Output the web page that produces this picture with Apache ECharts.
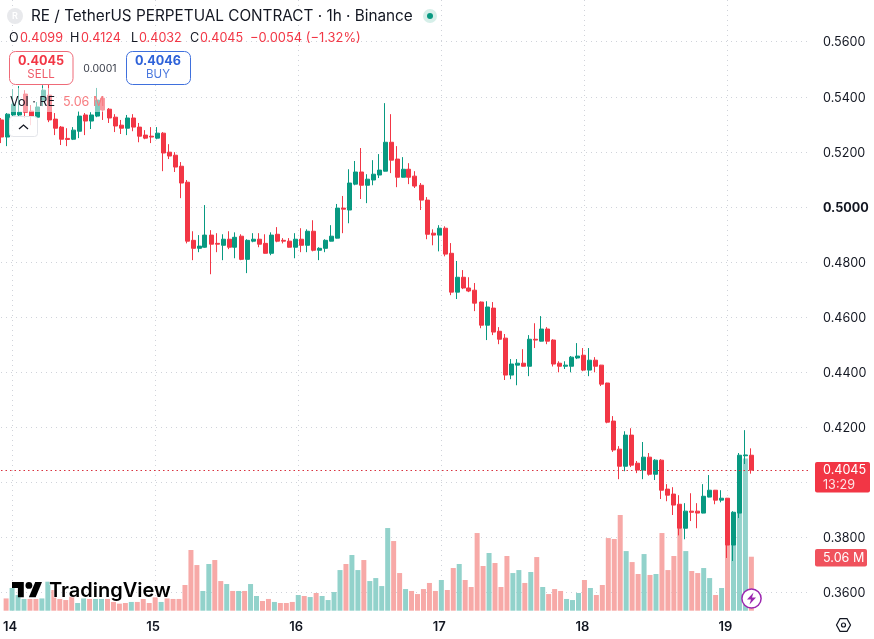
<!DOCTYPE html>
<html>
<head>
<meta charset="utf-8">
<title>RE / TetherUS perpetual, 1h</title>
<script src="https://cdn.jsdelivr.net/npm/echarts@6/dist/echarts.min.js"></script>
<style>
  html, body { margin: 0; padding: 0; background: #fff; }
  #chart { width: 874px; height: 639px; }
</style>
</head>
<body>
<div id="chart"></div>
<script>
// Hourly candles, oldest first.
const opens = [
  .5316,.5254,.5334,.5334,.5410,.5348,.5326,.5388,.5406,.5319,.5290,.5249,.5246,.5275,.5334,.5312,.5330,.5395,.5355,.5326,
  .5297,.5286,.5323,.5290,.5261,.5257,.5250,.5268,.5199,.5188,.5148,.5090,.4879,.4850,.4854,.4898,.4868,.4861,.4883,.4854,
  .4894,.4810,.4876,.4883,.4868,.4832,.4901,.4879,.4876,.4854,.4883,.4861,.4912,.4843,.4850,.4876,.4887,.4996,.4989,.5083,
  .5127,.5079,.5098,.5116,.5130,.5235,.5174,.5108,.5137,.5112,.5079,.5025,.4905,.4898,.4923,.4832,.4691,.4745,.4706,.4698,
  .4655,.4571,.4633,.4549,.4524,.4390,.4426,.4433,.4422,.4520,.4513,.4557,.4517,.4433,.4422,.4422,.4452,.4462,.4408,.4444,
  .4426,.4361,.4223,.4121,.4059,.4172,.4070,.4045,.4092,.4030,.4081,.3976,.3958,.3921,.3834,.3896,.3896,.3889,.3947,.3972,
  .3936,.3943,.3773,.3889,.4097,.4099
];
const closes = [
  .5254,.5337,.5373,.5344,.5344,.5330,.5363,.5424,.5316,.5286,.5246,.5245,.5279,.5330,.5312,.5334,.5388,.5352,.5323,.5294,
  .5286,.5323,.5290,.5257,.5250,.5254,.5268,.5196,.5185,.5145,.5087,.4876,.4850,.4858,.4898,.4865,.4865,.4883,.4854,.4890,
  .4810,.4879,.4883,.4865,.4832,.4898,.4876,.4876,.4854,.4883,.4861,.4912,.4843,.4850,.4879,.4894,.4996,.4992,.5087,.5127,
  .5079,.5101,.5119,.5134,.5235,.5170,.5108,.5137,.5108,.5076,.5025,.4901,.4898,.4923,.4829,.4691,.4745,.4706,.4695,.4651,
  .4571,.4637,.4546,.4520,.4390,.4430,.4433,.4422,.4520,.4517,.4557,.4513,.4430,.4422,.4426,.4455,.4459,.4408,.4444,.4422,
  .4357,.4219,.4118,.4059,.4172,.4063,.4045,.4092,.4030,.4081,.3972,.3954,.3918,.3834,.3896,.3892,.3889,.3950,.3972,.3936,
  .3943,.3773,.3892,.4099,.4100,.4045
];
const lows = [
  .5232,.5221,.5330,.5330,.5323,.5297,.5323,.5366,.5308,.5261,.5225,.5221,.5243,.5250,.5261,.5283,.5326,.5316,.5305,.5272,
  .5265,.5261,.5275,.5235,.5246,.5232,.5246,.5130,.5174,.5127,.5032,.4868,.4807,.4836,.4852,.4756,.4836,.4807,.4847,.4814,
  .4807,.4760,.4872,.4854,.4831,.4825,.4872,.4868,.4853,.4814,.4836,.4836,.4839,.4807,.4836,.4875,.4886,.4905,.4941,.5079,
  .5029,.5014,.5079,.5105,.5129,.5123,.5072,.5107,.5083,.5069,.4989,.4883,.4861,.4839,.4821,.4680,.4666,.4702,.4691,.4622,
  .4560,.4517,.4535,.4502,.4372,.4375,.4353,.4421,.4386,.4488,.4512,.4502,.4421,.4400,.4412,.4400,.4448,.4404,.4386,.4400,
  .4350,.4215,.4111,.4012,.4041,.4056,.4034,.4012,.4025,.4009,.3940,.3932,.3882,.3808,.3794,.3860,.3834,.3888,.3946,.3921,
  .3928,.3726,.3715,.3871,.4067,.4032
];
const highs = [
  .5323,.5341,.5428,.5439,.5424,.5370,.5381,.5442,.5446,.5341,.5294,.5286,.5290,.5348,.5341,.5344,.5432,.5403,.5359,.5337,
  .5316,.5334,.5337,.5305,.5279,.5290,.5290,.5272,.5228,.5199,.5163,.5098,.4912,.4898,.5007,.4916,.4905,.4901,.4912,.4908,
  .4901,.4883,.4905,.4905,.4901,.4908,.4927,.4887,.4887,.4905,.4923,.4919,.4952,.4854,.4883,.4934,.5011,.5040,.5137,.5167,
  .5214,.5119,.5170,.5192,.5377,.5337,.5221,.5181,.5159,.5130,.5087,.5036,.4919,.4934,.4930,.4869,.4804,.4771,.4745,.4724,
  .4657,.4658,.4655,.4564,.4539,.4448,.4448,.4484,.4535,.4578,.4604,.4564,.4520,.4440,.4440,.4459,.4506,.4488,.4488,.4455,
  .4427,.4362,.4241,.4132,.4186,.4197,.4078,.4147,.4107,.4085,.4085,.3994,.3983,.3954,.3925,.3961,.3925,.3994,.4027,.3973,
  .3972,.3944,.3896,.4107,.4190,.4124
];
// Traded volume per hour, in millions of RE.
const volumes = [
  1.15,2.13,1.47,1.10,1.10,1.10,1.15,2.72,1.94,1.10,1.00,1.31,.72,1.15,1.10,1.10,1.10,1.10,.82,.66,
  .72,.82,.82,1.10,.72,1.25,.82,1.15,1.10,1.10,2.41,5.69,4.28,1.85,4.38,4.75,2.78,2.50,1.85,1.85,
  1.85,2.50,1.38,.91,1.10,.82,.72,.72,.82,1.47,1.38,1.28,1.66,1.38,1.00,1.75,3.81,4.38,5.22,3.81,
  4.75,2.78,3.06,2.31,7.75,6.53,3.53,2.03,1.85,1.56,2.03,2.60,1.85,2.88,1.94,4.00,4.38,2.88,2.22,7.28,
  4.19,5.41,4.47,2.22,5.13,3.53,3.81,2.60,3.63,5.03,2.22,1.56,2.03,1.85,1.10,1.00,1.66,2.88,2.13,1.47,
  2.41,6.81,6.72,8.97,5.59,4.56,3.44,5.31,3.35,3.44,7.28,3.81,5.13,7.71,5.59,3.72,3.53,4.00,3.06,1.47,
  2.13,6.65,7.21,11.9,14.27,5.06
];
const dayLabels = ['14','15','16','17','18','19'];
const hoursPerDay = 24;
const firstMidnight = 1;       // slot of the first day label
const slotCount = 136;         // hourly slots, including the empty ones on the right
const lastPrice = 0.4045;
const volumeAxisMax = 57.25;

const UP = '#089981', DOWN = '#f23645';
const UP_VOL = '#92d2cb', DOWN_VOL = '#f7a9a7';
const GRID_LINE = '#d0d3da';
const INK = '#131722';
const FONT = 'Inter, "Noto Sans", sans-serif';

const isMidnight = i => (i - firstMidnight) % hoursPerDay === 0 && i >= firstMidnight;
const categories = Array.from({ length: slotCount }, (_, i) =>
  isMidnight(i) ? (dayLabels[(i - firstMidnight) / hoursPerDay] || '') : '');
const candles = opens.map((o, i) => [o, closes[i], lows[i], highs[i]]);
const volumeBars = volumes.map((v, i) => ({
  value: v,
  itemStyle: { color: closes[i] >= opens[i] ? UP_VOL : DOWN_VOL }
}));

// Header, order tickets and other chart furniture
function text(str, x, y, fill, font, align) {
  return { type: 'text', x, y, z: 30, silent: true,
    style: { text: str, fill, font: font + ' ' + FONT, textAlign: align || 'left', textVerticalAlign: 'middle' } };
}
function box(x, y, w, h, r, fill, stroke, z) {
  return { type: 'rect', z: z || 29, silent: true, shape: { x, y, width: w, height: h, r },
    style: { fill, stroke: stroke || null, lineWidth: 1 } };
}
const furniture = [
  // symbol badge and title
  { type: 'circle', z: 29, silent: true, shape: { cx: 15, cy: 16, r: 8 }, style: { fill: '#e8e9ec' } },
  text('R', 15, 16, '#fff', '600 9px', 'center'),
  text('RE / TetherUS PERPETUAL CONTRACT · 1h · Binance', 31, 16, INK, '400 15.3px'),
  { type: 'circle', z: 29, silent: true, shape: { cx: 430, cy: 16, r: 7 }, style: { fill: '#d6efe9' } },
  { type: 'circle', z: 29, silent: true, shape: { cx: 430, cy: 16, r: 3 }, style: { fill: UP } },
  // OHLC read-out
  text('O', 9, 38, INK, '400 12.6px'),
  text('0.4099', 20, 38, DOWN, '400 12.6px'),
  text('H', 70, 38, INK, '400 12.6px'),
  text('0.4124', 81, 38, DOWN, '400 12.6px'),
  text('L', 131, 38, INK, '400 12.6px'),
  text('0.4032', 139, 38, DOWN, '400 12.6px'),
  text('C', 190, 38, INK, '400 12.6px'),
  text('0.4045', 200, 38, DOWN, '400 12.6px'),
  text('−0.0054 (−1.32%)', 250, 38, DOWN, '400 12.9px'),
  // sell and buy tickets
  box(9.5, 51.5, 63.5, 33, 6, '#fff', '#ef6a78'),
  text('0.4045', 41, 61, DOWN, '700 12.6px', 'center'),
  text('SELL', 41, 75, '#ef5a68', '400 11.5px', 'center'),
  text('0.0001', 100, 68.5, '#3a3e4a', '400 10.5px', 'center'),
  box(126.5, 51.5, 64, 33, 6, '#fff', '#3f70dd'),
  text('0.4046', 158, 61, '#2e62d9', '700 12.6px', 'center'),
  text('BUY', 158, 75, '#4a78de', '400 11.5px', 'center'),
  // volume legend with its translucent backing, and the collapse button
  box(8, 88, 98, 24, 3, 'rgba(255,255,255,0.5)'),
  text('Vol · RE', 10, 102, INK, '400 12.6px'),
  text('5.06 M', 63, 102, '#f77c80', '400 12.6px'),
  box(9.5, 116.5, 28, 20, 3, 'rgba(255,255,255,0.82)', '#e3e5ea'),
  { type: 'polyline', z: 30, silent: true, shape: { points: [[19, 129], [23.5, 125], [28, 129]] },
    style: { fill: null, stroke: INK, lineWidth: 1.3 } },
  // price and volume tags on the scale
  box(815, 462, 55, 30.5, 2, DOWN),
  text('0.4045', 823, 470.5, '#ffffff', '400 12.6px'),
  text('13:29', 823, 485, '#fde4e6', '400 12.6px'),
  box(815, 549, 52, 17.5, 2, '#f0525d'),
  text('5.06 M', 823, 558, '#fff', '400 12.6px'),
  // settings hexagon
  { type: 'polygon', z: 30, silent: true,
    shape: { points: [[836.5, 625], [840, 618.7], [847, 618.7], [850.5, 625], [847, 631.3], [840, 631.3]] },
    style: { fill: null, stroke: INK, lineWidth: 1.2 } },
  { type: 'circle', z: 30, silent: true, shape: { cx: 843.5, cy: 625, r: 2 },
    style: { fill: null, stroke: INK, lineWidth: 1.2 } },
  // lightning badge
  { type: 'circle', z: 30, silent: true, shape: { cx: 751.5, cy: 598.5, r: 9.6 },
    style: { fill: '#fff', stroke: '#9c27b0', lineWidth: 1.5 } },
  { type: 'polygon', z: 31, silent: true,
    shape: { points: [[753.5, 592.5], [747, 599.5], [751, 599.5], [749.5, 604.5], [756, 597.5], [752, 597.5]] },
    style: { fill: '#9c27b0' } },
  // TradingView mark
  { type: 'polygon', z: 30, silent: true,
    shape: { points: [[12, 582], [23.8, 582], [23.8, 597.2], [17.9, 597.2], [17.9, 587.9], [12, 587.9]] },
    style: { fill: '#000' } },
  { type: 'polygon', z: 30, silent: true,
    shape: { points: [[28.9, 597.2], [35.2, 582], [42, 582], [35.7, 597.2]] },
    style: { fill: '#000' } },
  { type: 'circle', z: 30, silent: true, shape: { cx: 28.9, cy: 585.4, r: 3.4 }, style: { fill: '#000' } },
  { type: 'text', x: 49, y: 590.5, z: 30, silent: true,
    style: { text: 'TradingView', fill: '#000', font: '600 20px ' + FONT, textVerticalAlign: 'middle',
      stroke: '#fff', lineWidth: 1 } }
];

const chart = echarts.init(document.getElementById('chart'), null, { renderer: 'canvas' });
chart.setOption({
  animation: false,
  backgroundColor: '#fff',
  textStyle: { fontFamily: FONT },
  graphic: { elements: furniture },
  grid: [
    // volume pane, also carries the day labels and their vertical rules
    { left: 1, width: 810, top: 0, height: 610.7 },
    // price pane spans the 0.36 to 0.56 scale
    { left: 1, width: 810, top: 41.7, height: 551 }
  ],
  xAxis: [
    {
      type: 'category', gridIndex: 0, data: categories, boundaryGap: false,
      axisLine: { show: false }, axisTick: { show: false },
      axisLabel: { interval: (i) => isMidnight(i), color: INK, fontSize: 13, fontWeight: 600, margin: 10,
        padding: [0, 4, 0, 0], fontFamily: FONT },
      splitLine: { show: true, interval: (i) => isMidnight(i), lineStyle: { color: GRID_LINE, type: [1, 4], width: 1 } }
    },
    {
      type: 'category', gridIndex: 1, data: categories, boundaryGap: false,
      axisLine: { show: false }, axisTick: { show: false }, axisLabel: { show: false }, splitLine: { show: false }
    }
  ],
  yAxis: [
    { type: 'value', gridIndex: 0, min: 0, max: volumeAxisMax, show: false, splitLine: { show: false } },
    {
      type: 'value', gridIndex: 1, position: 'right', min: 0.36, max: 0.56, interval: 0.02,
      axisLine: { show: false }, axisTick: { show: false },
      axisLabel: {
        margin: 12, fontFamily: FONT, fontSize: 12.6, color: INK, padding: [2, 0, 0, 0],
        formatter: (v) => Math.abs(v - 0.5) < 1e-6 ? '{round|' + v.toFixed(4) + '}' : v.toFixed(4),
        rich: { round: { fontWeight: 700, fontSize: 12.6, color: INK, fontFamily: FONT } }
      },
      splitLine: { show: true, lineStyle: { color: GRID_LINE, type: [1, 4], width: 1 } }
    }
  ],
  series: [
    { type: 'bar', name: 'Volume', xAxisIndex: 0, yAxisIndex: 0, data: volumeBars, barWidth: 5, silent: true, z: 2 },
    {
      type: 'candlestick', name: 'RE/USDT', xAxisIndex: 1, yAxisIndex: 1, data: candles, barWidth: 4.5, z: 3,
      itemStyle: { color: UP, color0: DOWN, borderColor: UP, borderColor0: DOWN, borderWidth: 1 },
      markLine: {
        silent: true, symbol: 'none', animation: false, precision: 4, label: { show: false },
        lineStyle: { color: '#d9323f', type: [1.5, 3], width: 1 },
        data: [{ yAxis: lastPrice }]
      }
    }
  ]
});
</script>
</body>
</html>
